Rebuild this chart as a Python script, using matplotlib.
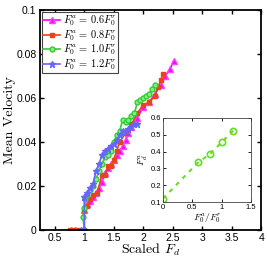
import matplotlib
matplotlib.use("Agg")
import matplotlib.pyplot as plt

plt.rcParams['mathtext.fontset'] = 'cm'
plt.rcParams['font.family'] = ['Liberation Sans', 'DejaVu Sans']

# Series: F0^a = 0.6 F0^r
x06 = [0.78, 0.85, 1.0, 1.0, 1.05, 1.1, 1.15, 1.2, 1.25, 1.3, 1.35, 1.4, 1.45, 1.5, 1.55, 1.6,
       1.65, 1.7, 1.75, 1.8, 1.9, 2.0, 2.1, 2.2, 2.3, 2.37, 2.45, 2.52]
y06 = [0.0, 0.0, 0.0, 0.009, 0.012, 0.013, 0.015, 0.017, 0.019, 0.022, 0.026, 0.028, 0.030,
       0.032, 0.034, 0.036, 0.038, 0.041, 0.044, 0.047, 0.051, 0.056, 0.058, 0.062, 0.066,
       0.070, 0.073, 0.077]
# Series: F0^a = 0.8 F0^r
x08 = [0.75, 0.82, 0.9, 1.0, 1.0, 1.05, 1.1, 1.15, 1.22, 1.3, 1.35, 1.4, 1.45, 1.5, 1.55, 1.6,
       1.7, 1.8, 1.9, 2.0, 2.1, 2.2, 2.25, 2.3, 2.33]
y08 = [0.0, 0.0, 0.0, 0.0, 0.009, 0.011, 0.014, 0.016, 0.017, 0.025, 0.025, 0.029, 0.029,
       0.032, 0.036, 0.040, 0.044, 0.048, 0.053, 0.057, 0.058, 0.061, 0.065, 0.068, 0.071]
# Series: F0^a = 1.0 F0^r
x10 = [1.0, 0.98, 1.0, 1.02, 1.05, 1.1, 1.15, 1.2, 1.25, 1.3, 1.35, 1.4, 1.45, 1.5, 1.55, 1.6,
       1.65, 1.7, 1.75, 1.8, 1.85, 1.9, 1.95, 2.0, 2.05, 2.1, 2.15, 2.2]
y10 = [0.0, 0.006, 0.010, 0.014, 0.016, 0.018, 0.020, 0.023, 0.027, 0.030, 0.033, 0.034,
       0.036, 0.040, 0.043, 0.045, 0.050, 0.049, 0.050, 0.052, 0.053, 0.058, 0.059, 0.060,
       0.061, 0.062, 0.064, 0.066]
# Series: F0^a = 1.2 F0^r
x12 = [0.95, 1.0, 1.0, 1.05, 1.1, 1.15, 1.2, 1.25, 1.3, 1.35, 1.4, 1.45, 1.5, 1.55, 1.6,
       1.65, 1.7, 1.75, 1.8, 1.85, 1.9]
y12 = [0.0, 0.0, 0.015, 0.017, 0.019, 0.021, 0.027, 0.030, 0.034, 0.036, 0.037, 0.038, 0.039,
       0.041, 0.043, 0.045, 0.045, 0.046, 0.047, 0.048, 0.048]

labels = [r'$F_0^a\,=\,0.6F_0^r$', r'$F_0^a\,=\,0.8F_0^r$', r'$F_0^a\,=\,1.0F_0^r$', r'$F_0^a\,=\,1.2F_0^r$']

# Inset data
inset_x = [0.0, 0.6, 0.8, 1.0, 1.2]
inset_y = [0.12, 0.335, 0.385, 0.455, 0.525]

xticks = [0.5, 1, 1.5, 2, 2.5, 3, 3.5, 4]
xticklabels = ['0.5', '1', '1.5', '2', '2.5', '3', '3.5', '4']
yticks = [0, 0.02, 0.04, 0.06, 0.08, 0.1]
yticklabels = ['0', '0.02', '0.04', '0.06', '0.08', '0.1']

fig = plt.figure(figsize=(2.67, 2.58), dpi=100)
ax = fig.add_axes([0.150, 0.1085, 0.828, 0.8525])

ax.plot(x06, y06, '-^', color='#ff00ff', lw=1.2, ms=4, mfc='#ff00ff', mec='#ff44ff', label=labels[0])
ax.plot(x08, y08, '-s', color='#e8431b', lw=1.2, ms=3.5, mfc='#e8431b', mec='#e8431b', label=labels[1])
ax.plot(x10, y10, '-o', color='#33cc33', lw=1.2, ms=3.5, mfc='#88ee88', mec='#33cc33', label=labels[2])
ax.plot(x12, y12, '-*', color='#6666ff', lw=1.2, ms=5, mfc='#6666ff', mec='#6666ff', label=labels[3])

ax.set_xlim(0.25, 4)
ax.set_ylim(0, 0.1)
ax.set_xticks(xticks)
ax.set_xticklabels(xticklabels)
ax.set_yticks(yticks)
ax.set_yticklabels(yticklabels)
ax.tick_params(direction='in', top=True, right=True, labelsize=7.5, length=3, width=1, pad=2.5)
for s in ax.spines.values():
    s.set_linewidth(1.3)
ax.set_xlabel(r'Scaled $F_d$', fontsize=10, family=['cmr10', 'DejaVu Serif'], labelpad=-1)
ax.set_ylabel('Mean Velocity', fontsize=10, family=['cmr10', 'DejaVu Serif'])
ax.yaxis.set_label_coords(-0.108, 0.5)

leg = ax.legend(loc='upper left', fontsize=7.5, frameon=True, fancybox=False, framealpha=1,
                edgecolor='#444444', borderaxespad=0.15, handlelength=1.6, handletextpad=0.3,
                borderpad=0.15, labelspacing=0.0, handleheight=0.5)
leg.get_frame().set_linewidth(0.8)

axi = fig.add_axes([0.610, 0.217, 0.330, 0.326])
axi.plot(inset_x, inset_y, linestyle=(0, (2, 2.5)), marker='o', color='#66dd22', lw=1.5,
         ms=4.5, mfc='none', mec='#66dd22', mew=1.2)
axi.set_xlim(0, 1.5)
axi.set_ylim(0.1, 0.6)
axi.set_xticks([0, 0.5, 1, 1.5])
axi.set_xticklabels(['0', '0.5', '1', '1.5'])
axi.set_yticks([0.1, 0.2, 0.3, 0.4, 0.5, 0.6])
axi.set_yticklabels(['0.1', '0.2', '0.3', '0.4', '0.5', '0.6'])
axi.tick_params(direction='in', top=True, right=True, labelsize=5.5, length=2, width=0.6, pad=1.5)
for s in axi.spines.values():
    s.set_linewidth(0.6)
    s.set_color('#444444')
axi.set_xlabel(r'$F_0^a/F_0^r$', fontsize=7, labelpad=0)
axi.set_ylabel(r'$F_d^a$', fontsize=7, labelpad=0)

fig.savefig('out.png', dpi=100)
